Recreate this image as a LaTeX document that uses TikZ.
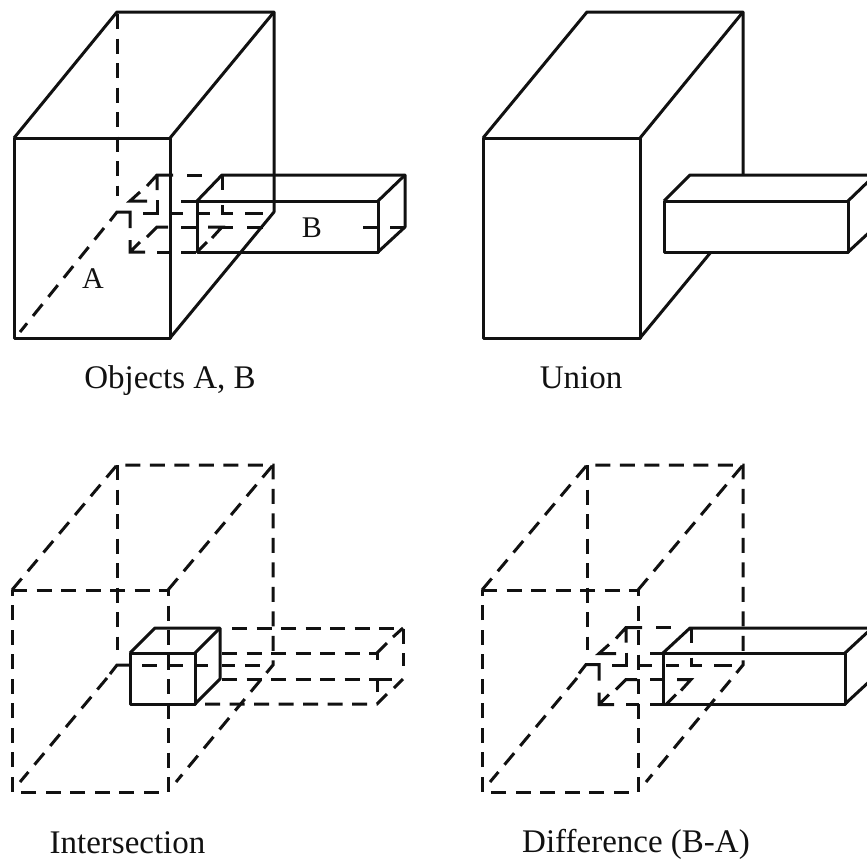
\documentclass[tikz,border=0pt]{standalone}
\usepackage{fontspec}
\setmainfont{Liberation Serif}
\definecolor{ink}{HTML}{111111}
\begin{document}
\begin{tikzpicture}[x=1pt, y=-1pt,
      solidln/.style={ink, line width=3pt, line join=round},
      hiddenln/.style={ink, line width=3pt, dash pattern=on 15pt off 9.5pt},
      bitln/.style={ink, line width=3pt, line join=miter},
      lbl/.style={ink, font=\fontsize{30}{34}\selectfont, inner sep=0pt, anchor=base},
      caption/.style={ink, font=\fontsize{33}{38}\selectfont, inner sep=0pt, anchor=base}]
    \clip (0,0) rectangle (867,860);
    % hidden left end of B, upper left and lower right
    \foreach \dx/\dy in {0/0, 469/452.5} {
      \begin{scope}[shift={(\dx,\dy)}]
        \draw[bitln] (147,186) -- (157,175) -- (173,175) (157,175) -- (157,190);
        \draw[bitln] (187,175) -- (202,175);
        \draw[bitln] (140,192) -- (130,201) -- (147,201);
        \draw[bitln] (181,201) -- (197,201);
        \draw[bitln] (157,200) -- (157,213) -- (143,213);
        \draw[bitln] (170,213) -- (183,213) (197,213) -- (210,213);
        \draw[bitln] (222,205) -- (222,213) -- (233,213) (245,213) -- (263,213);
        \draw[bitln] (222,175) -- (222,190);
        \draw[bitln] (147,237) -- (157,227) -- (168,227);
        \draw[bitln] (181,227) -- (196,227);
        \draw[bitln] (208,227) -- (222,227) -- (212,238);
        \draw[bitln] (130,240) -- (130,252) -- (145,252) (140,242) -- (130,252);
        \draw[bitln] (157,252) -- (170,252) (181,252) -- (196,252);
        \draw[bitln] (207,242) -- (197,252);
        \draw[bitln] (110,221) -- (117,212) -- (130,212) -- (130,228);
      \end{scope}
    }
    % Objects A, B
    \draw[hiddenln] (117,14) -- (117,196);
    \draw[hiddenln] (104,228) -- (20,332);
    \draw[bitln] (222,227) -- (233,227) (247,227) -- (263,227);
    \draw[bitln] (363,227) -- (378,227) (390,227) -- (405,227);
    \draw[solidln] (14,138) rectangle (170,338);
    \draw[solidln] (14,138) -- (117,12) -- (274,12) -- (274,212) -- (170,338);
    \draw[solidln] (170,138) -- (274,12);
    \draw[solidln] (197,201) rectangle (378,252);
    \draw[solidln] (197,201) -- (222,175) -- (405,175) -- (405,227) -- (378,252);
    \draw[solidln] (378,201) -- (405,175);
    \node[lbl] (labA) at (93,288) {A};
    \node[lbl] (labB) at (312,237) {B};
    \node[caption] (capAB) at (170,388) {Objects A, B};
    % Union
    \draw[solidln] (483,138) rectangle (640,338);
    \draw[solidln] (483,138) -- (587,12) -- (743,12) -- (743,175);
    \draw[solidln] (640,138) -- (743,12);
    \draw[solidln] (640,338) -- (711,252);
    \draw[solidln] (664,201) rectangle (848,252);
    \draw[solidln] (664,201) -- (690,175) -- (875,175) -- (875,227) -- (848,252);
    \draw[solidln] (848,201) -- (875,175);
    \node[caption] (capU) at (581,388) {Union};
    % big hidden box, lower row
    \foreach \dx in {0,470} {
      \begin{scope}[shift={(\dx,0)}]
        \draw[hiddenln] (12,590) -- (168,590) -- (168,792) -- (12,792) -- cycle;
        \draw[hiddenln] (12,590) -- (117,465) -- (273,465) -- (273,665) -- (176,782);
        \draw[hiddenln] (168,590) -- (273,465);
        \draw[hiddenln] (117,465) -- (117,650);
        \draw[hiddenln] (107,678) -- (20,782);
      \end{scope}
    }
    % Intersection
    \draw[bitln] (110,674) -- (117,665) -- (130,665);
    \draw[bitln] (142,665) -- (157,665) (170,665) -- (183,665) (197,665) -- (208,665);
    \draw[bitln] (222,665) -- (235,665) (245,665) -- (260,665);
    \draw[hiddenln] (232,628) -- (403,628) -- (403,666);
    \draw[hiddenln] (222,653) -- (377,653) -- (377,668);
    \draw[hiddenln] (222,679) -- (392,679);
    \draw[bitln] (377,692) -- (377,679) -- (392,679);
    \draw[bitln] (394,688) -- (403,679);
    \draw[hiddenln] (205,704) -- (377,704) -- (387,694);
    \draw[bitln] (377,653) -- (387,643) (393,637) -- (403,628);
    \draw[solidln] (130,653) rectangle (195,704);
    \draw[solidln] (130,653) -- (155,628) -- (220,628) -- (220,679) -- (195,704);
    \draw[solidln] (195,653) -- (220,628);
    \node[caption] (capI) at (127.5,853) {Intersection};
    % Difference (B-A)
    \draw[solidln] (663,653) rectangle (845,704);
    \draw[solidln] (663,653) -- (690,628) -- (875,628);
    \draw[solidln] (845,653) -- (872,628);
    \draw[solidln] (845,704) -- (872,679);
    \node[caption] (capD) at (636,852) {Difference (B-A)};
  \end{tikzpicture}
\end{document}
